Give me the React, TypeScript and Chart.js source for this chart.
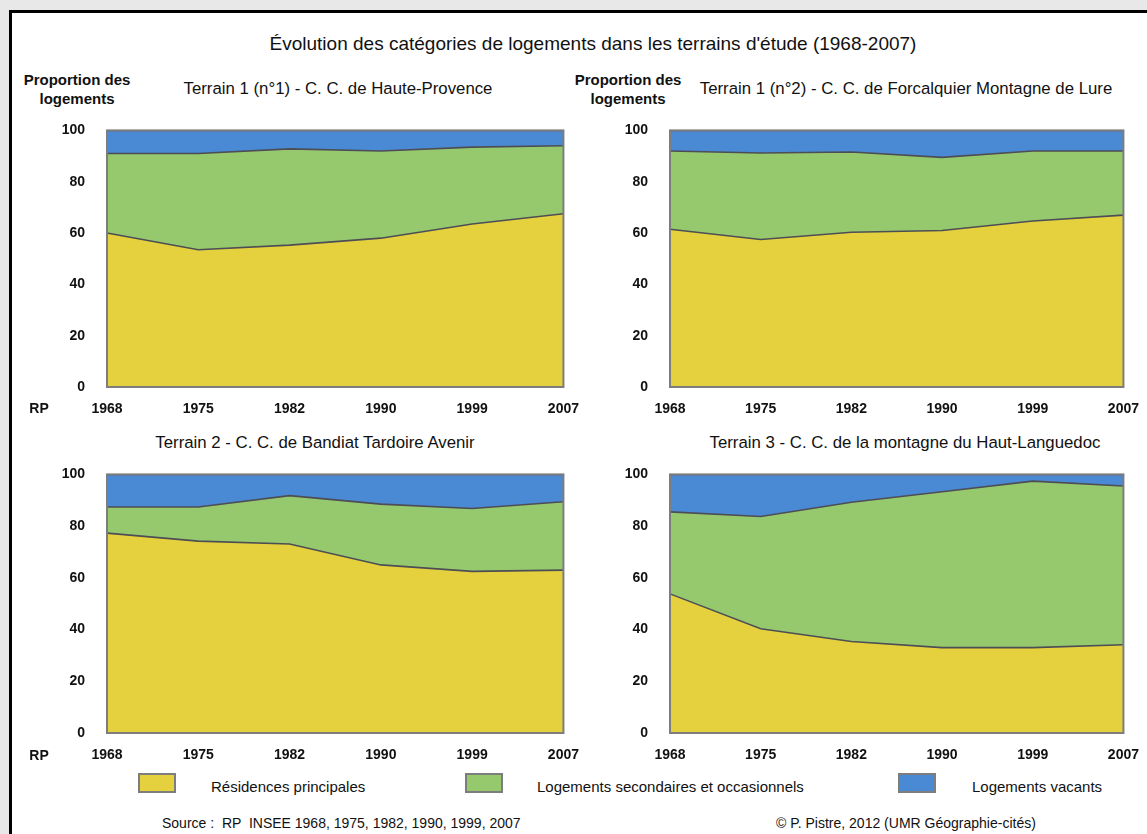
import React, { useEffect, useRef } from "react";
import { Chart, registerables } from "chart.js";

Chart.register(...registerables);

const years = ["1968", "1975", "1982", "1990", "1999", "2007"];
const yTicks = [0, 20, 40, 60, 80, 100];

const seriesNames = [
  "Résidences principales",
  "Logements secondaires et occasionnels",
  "Logements vacants",
];

// Terrain 1 (n°1) - C. C. de Haute-Provence
const t1Res = [60, 53.5, 55.3, 58, 63.5, 67.5];
const t1Sec = [31, 37.5, 37.5, 34, 30, 26.5];
const t1Vac = [9, 9, 7.2, 8, 6.5, 6];

// Terrain 1 (n°2) - C. C. de Forcalquier Montagne de Lure
const t2Res = [61.5, 57.5, 60.3, 61, 64.7, 67];
const t2Sec = [30.5, 33.7, 31.3, 28.5, 27.3, 25];
const t2Vac = [8, 8.8, 8.4, 10.5, 8, 8];

// Terrain 2 - C. C. de Bandiat Tardoire Avenir
const t3Res = [77.3, 74.2, 73.1, 65, 62.5, 63];
const t3Sec = [10.1, 13.2, 18.7, 23.5, 24.3, 26.4];
const t3Vac = [12.6, 12.6, 8.2, 11.5, 13.2, 10.6];

// Terrain 3 - C. C. de la montagne du Haut-Languedoc
const t4Res = [53.8, 40.3, 35.4, 33, 33, 34.1];
const t4Sec = [31.7, 43.4, 53.8, 60.3, 64.4, 61.4];
const t4Vac = [14.5, 16.3, 10.8, 6.7, 2.6, 4.5];

const COLORS = ["#E5D13D", "#96C96E", "#4A89D3"];
const FONT = '"Liberation Sans", Arial, Helvetica, sans-serif';

const framePlugin = {
  id: "frame",
  afterDatasetsDraw(chart: any) {
    const { ctx, chartArea } = chart;
    ctx.save();
    ctx.strokeStyle = "#7d7d7d";
    ctx.lineWidth = 2;
    ctx.strokeRect(
      chartArea.left,
      chartArea.top,
      chartArea.right - chartArea.left,
      chartArea.bottom - chartArea.top
    );
    ctx.restore();
  },
};

type AreaProps = {
  L: number;
  T: number;
  R: number;
  B: number;
  res: number[];
  sec: number[];
  vac: number[];
};

const WY = 70;
const PT = 10;
const EXTRA = 20;
const PR = 25;
const HX = 32;

function AreaChart({ L, T, R, B, res, sec, vac }: AreaProps) {
  const ref = useRef<HTMLCanvasElement | null>(null);
  const x0 = L - WY;
  const y0 = T - PT - EXTRA;
  const w = R + PR - x0;
  const h = B + HX - y0;

  useEffect(() => {
    if (!ref.current) return;
    const values = [res, sec, vac];
    const chart = new Chart(ref.current, {
      type: "line",
      data: {
        labels: years,
        datasets: values.map((v, i) => ({
          label: seriesNames[i],
          data: v,
          backgroundColor: COLORS[i],
          borderColor: "#4d4d55",
          borderWidth: 1.6,
          pointRadius: 0,
          tension: 0,
          fill: i === 0 ? "origin" : "-1",
        })),
      },
      options: {
        animation: false,
        responsive: false,
        devicePixelRatio: 1,
        layout: { padding: { top: PT, right: PR, left: 0, bottom: 0 } },
        plugins: {
          legend: { display: false },
          tooltip: { enabled: false },
          title: { display: false },
        },
        scales: {
          x: {
            type: "category",
            offset: false,
            grid: { display: false, drawTicks: false },
            border: { display: false },
            ticks: {
              autoSkip: false,
              maxRotation: 0,
              padding: 14,
              color: "#111",
              font: { family: FONT, size: 14, weight: "bold" },
            },
            afterFit(scale: any) {
              scale.height = HX;
            },
          },
          y: {
            stacked: true,
            min: 0,
            max: 100,
            afterBuildTicks(scale: any) {
              scale.ticks = yTicks.map((v) => ({ value: v }));
            },
            grid: { display: false, drawTicks: false },
            border: { display: false },
            ticks: {
              padding: 22,
              color: "#111",
              font: { family: FONT, size: 14, weight: "bold" },
            },
            afterFit(scale: any) {
              scale.width = WY;
            },
          },
        },
      },
      plugins: [framePlugin],
    } as any);
    return () => chart.destroy();
  }, []);

  return (
    <canvas
      ref={ref}
      width={w}
      height={h}
      style={{ position: "absolute", left: x0, top: y0, width: w, height: h }}
    />
  );
}

function Txt({
  x,
  y,
  children,
  size = 13,
  bold = false,
  align = "center",
  lh = 1.2,
}: {
  x: number;
  y: number;
  children: React.ReactNode;
  size?: number;
  bold?: boolean;
  align?: "center" | "left";
  lh?: number;
}) {
  return (
    <div
      style={{
        position: "absolute",
        left: x,
        top: y,
        transform: align === "center" ? "translate(-50%, -50%)" : "translate(0, -50%)",
        fontFamily: FONT,
        fontSize: size,
        fontWeight: bold ? "bold" : "normal",
        color: "#111",
        whiteSpace: "pre",
        lineHeight: lh,
        textAlign: "center",
      }}
    >
      {children}
    </div>
  );
}

export default function App() {
  const legendItems = [
    { box: 138, text: 211 },
    { box: 465, text: 537 },
    { box: 898, text: 972 },
  ];
  return (
    <div
      style={{
        position: "absolute",
        left: 0,
        top: 0,
        width: 1147,
        height: 834,
        background: "#e8e8e8",
        overflow: "hidden",
      }}
    >
      <div
        style={{
          position: "absolute",
          left: 9,
          top: 10,
          width: 1300,
          height: 1000,
          background: "#fff",
          borderLeft: "3px solid #000",
          borderTop: "3px solid #000",
        }}
      />
      <Txt x={593} y={44} size={19}>
        Évolution des catégories de logements dans les terrains d'étude (1968-2007)
      </Txt>
      <Txt x={77} y={89} size={15} bold lh={1.27}>
        {"Proportion des\nlogements"}
      </Txt>
      <Txt x={628} y={89} size={15} bold lh={1.27}>
        {"Proportion des\nlogements"}
      </Txt>
      <Txt x={338} y={89} size={16.8}>
        Terrain 1 (n°1) - C. C. de Haute-Provence
      </Txt>
      <Txt x={906} y={89} size={16.8}>
        Terrain 1 (n°2) - C. C. de Forcalquier Montagne de Lure
      </Txt>
      <Txt x={315} y={443} size={16.8}>
        Terrain 2 - C. C. de Bandiat Tardoire Avenir
      </Txt>
      <Txt x={905} y={443} size={16.8}>
        Terrain 3 - C. C. de la montagne du Haut-Languedoc
      </Txt>

      <AreaChart L={107} T={130} R={568} B={387} res={t1Res} sec={t1Sec} vac={t1Vac} />
      <AreaChart L={670} T={130} R={1128} B={387} res={t2Res} sec={t2Sec} vac={t2Vac} />
      <AreaChart L={107} T={474} R={568} B={733} res={t3Res} sec={t3Sec} vac={t3Vac} />
      <AreaChart L={670} T={474} R={1128} B={733} res={t4Res} sec={t4Sec} vac={t4Vac} />

      <Txt x={39} y={408} size={14} bold>
        RP
      </Txt>
      <Txt x={39} y={755} size={14} bold>
        RP
      </Txt>

      {legendItems.map((it, i) => (
        <React.Fragment key={i}>
          <div
            style={{
              position: "absolute",
              left: it.box,
              top: 773,
              width: 34,
              height: 16,
              background: COLORS[i],
              border: "2px solid #7d7d7d",
            }}
          />
          <Txt x={it.text} y={787} size={15} align="left">
            {seriesNames[i]}
          </Txt>
        </React.Fragment>
      ))}

      <Txt x={162} y={823} size={14} align="left">
        {"Source :  RP  INSEE 1968, 1975, 1982, 1990, 1999, 2007"}
      </Txt>
      <Txt x={776} y={823} size={14} align="left">
        © P. Pistre, 2012 (UMR Géographie-cités)
      </Txt>
    </div>
  );
}
